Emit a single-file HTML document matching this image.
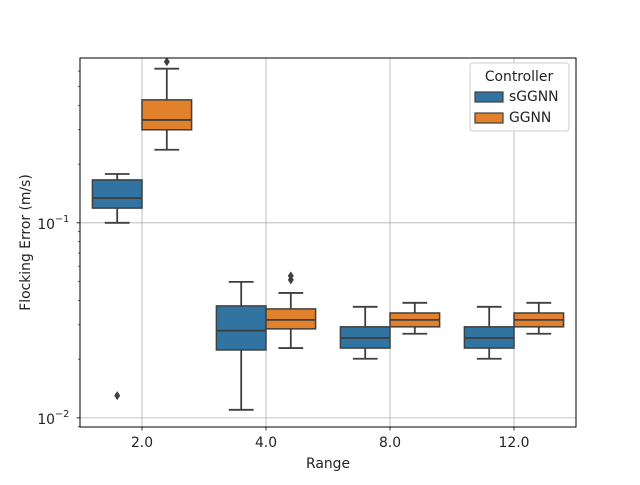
<!DOCTYPE html>
<html><head><meta charset="utf-8"><style>
body{margin:0;background:#fff}
svg text{font-family:"DejaVu Sans","Liberation Sans",sans-serif;fill:#222}
</style></head><body>
<svg id="chart" width="640" height="480" viewBox="0 0 640 480" xmlns="http://www.w3.org/2000/svg"></svg>
<script>
const categories=["2.0","4.0","8.0","12.0"];
const seriesNames=["sGGNN","GGNN"];
const sggnnStats=[[0.100,0.119,0.134,0.166,0.178],[0.0110,0.0223,0.0280,0.0375,0.0498],[0.0201,0.0228,0.0257,0.0293,0.0371],[0.0201,0.0228,0.0257,0.0293,0.0371]];
const ggnnStats=[[0.237,0.300,0.337,0.427,0.617],[0.0228,0.0286,0.0318,0.0362,0.0437],[0.0270,0.0293,0.0318,0.0345,0.0389],[0.0270,0.0293,0.0318,0.0345,0.0389]];
const sggnnOutliers=[[0.0130],[],[],[]];
const ggnnOutliers=[[0.67],[0.051,0.0535],[],[]];
const yMajorTicks=[0.01,0.1];
const yMajorLabels=["10","10"];
const yMajorExp=["−2","−1"];

const S="http://www.w3.org/2000/svg";
const svg=document.getElementById('chart');
const L=80,R=576,T=58,B=427;
const yMin=Math.log10(0.00898),yMax=Math.log10(0.70);
function y(v){return B-(Math.log10(v)-yMin)/(yMax-yMin)*(B-T);}
const band=(R-L)/categories.length;
function xc(i){return L+band*(i+0.5);}
function mk(tag,attrs,parent){const e=document.createElementNS(S,tag);for(const k in attrs)e.setAttribute(k,attrs[k]);(parent||svg).appendChild(e);return e;}

const grid=mk('g',{});


categories.forEach((c,i)=>mk('line',{x1:xc(i),x2:xc(i),y1:T,y2:B,stroke:'#b0b0b0','stroke-width':0.8},grid));
yMajorTicks.forEach(v=>mk('line',{x1:L,x2:R,y1:y(v),y2:y(v),stroke:'#b0b0b0','stroke-width':0.8},grid));

const colors=["#3274a1","#e1812c"];
const edge="#3f3f3f";
const allStats=[sggnnStats,ggnnStats];
const allOut=[sggnnOutliers,ggnnOutliers];
const bw=band*0.4;
allStats.forEach((stats,s)=>{
  stats.forEach((st,i)=>{
    const g=mk('g',{});
    
    
    const x0=xc(i)-band*0.4+s*bw, cx=x0+bw/2;
    mk('line',{x1:cx,x2:cx,y1:y(st[0]),y2:y(st[1]),stroke:edge,'stroke-width':1.8},g);
    mk('line',{x1:cx,x2:cx,y1:y(st[3]),y2:y(st[4]),stroke:edge,'stroke-width':1.8},g);
    mk('line',{x1:cx-bw/4,x2:cx+bw/4,y1:y(st[0]),y2:y(st[0]),stroke:edge,'stroke-width':1.8},g);
    mk('line',{x1:cx-bw/4,x2:cx+bw/4,y1:y(st[4]),y2:y(st[4]),stroke:edge,'stroke-width':1.8},g);
    mk('rect',{x:x0,y:y(st[3]),width:bw,height:y(st[1])-y(st[3]),fill:colors[s],stroke:edge,'stroke-width':1.5},g);
    mk('line',{x1:x0,x2:x0+bw,y1:y(st[2]),y2:y(st[2]),stroke:edge,'stroke-width':1.8},g);
    allOut[s][i].forEach(o=>{
      const p=mk('path',{d:`M${cx} ${y(o)-4.5}L${cx+3} ${y(o)}L${cx} ${y(o)+4.5}L${cx-3} ${y(o)}Z`,fill:edge},g);
      
      
    });
  });
});

const fr=mk('rect',{x:L,y:T,width:R-L,height:B-T,fill:'none',stroke:'#000','stroke-width':1});



categories.forEach((c,i)=>{
  mk('line',{x1:xc(i),x2:xc(i),y1:B,y2:B+3.5,stroke:'#000','stroke-width':0.8});
  const t=mk('text',{x:xc(i),y:B+20,'font-size':13.9,'text-anchor':'middle'});
  t.textContent=c;
  
  
});
for(let d=-3;d<=0;d++){for(let m=2;m<=9;m++){const v=m*Math.pow(10,d);if(v>0.00898&&v<0.70){mk('line',{x1:L-2,x2:L,y1:y(v),y2:y(v),stroke:'#000','stroke-width':0.6});}}}
yMajorTicks.forEach((v,i)=>{
  mk('line',{x1:L-3.5,x2:L,y1:y(v),y2:y(v),stroke:'#000','stroke-width':0.8});
  const t=mk('text',{x:L-25,y:y(v)+6,'font-size':13.9,'text-anchor':'end'});
  t.textContent=yMajorLabels[i];
  
  
  const e=mk('text',{x:L-25,y:y(v)-1,'font-size':9.7,'text-anchor':'start'});
  e.textContent=yMajorExp[i];
});

const xl=mk('text',{x:(L+R)/2,y:468,'font-size':13.9,'text-anchor':'middle'});
xl.textContent="Range";


const yl=mk('text',{x:0,y:0,'font-size':13.9,'text-anchor':'middle',transform:`translate(30,${(T+B)/2}) rotate(-90)`});
yl.textContent="Flocking Error (m/s)";



const lg=mk('g',{});


mk('rect',{x:470,y:63,width:99,height:68,rx:3,fill:'#fff','fill-opacity':0.8,stroke:'#ccc','stroke-width':1},lg);
const lt=mk('text',{x:519,y:81,'font-size':13.9,'text-anchor':'middle'},lg);
lt.textContent="Controller";
seriesNames.forEach((n,s)=>{
  const yy=96+s*21;
  const e=mk('g',{},lg);
  
  
  mk('rect',{x:475,y:yy-4,width:28,height:10,fill:colors[s],stroke:edge,'stroke-width':1.2},e);
  const t=mk('text',{x:509,y:yy+5,'font-size':13.9},e);
  t.textContent=n;
});
</script>
</body></html>
